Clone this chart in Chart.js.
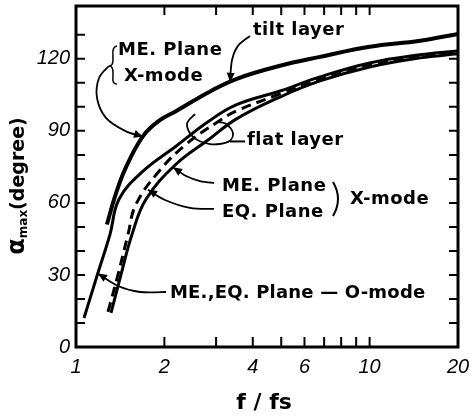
<!DOCTYPE html>
<html>
<head>
<meta charset="utf-8">
<script src="https://cdn.jsdelivr.net/npm/chart.js@4"></script>
<style>
  html, body { margin: 0; padding: 0; background: #fff; }
  #wrap { width: 469px; height: 417px; }
</style>
</head>
<body>
<div id="wrap"><canvas id="grafico" width="469" height="417"></canvas></div>
<script>
// eixos
const xTicks = [1, 2, 4, 6, 10, 20];
const xMinorTicks = [2, 3, 4, 5, 6, 7, 8, 9, 10];
const yTicks = [0, 30, 60, 90, 120];
const yMinorTicks = [10, 20, 30, 40, 50, 60, 70, 80, 90, 100, 110, 120, 130];

// tilt layer, ME plane X-mode
const fTilt = [1.274, 1.358, 1.469, 1.691, 1.932, 2.19, 2.84, 3.51, 4.95, 6.78, 10.0, 14.85, 20];
const aTilt = [51.0, 62.7, 74.0, 87.8, 94.5, 98.2, 106.2, 111.6, 117.1, 120.8, 125.0, 127.5, 130.4];
// flat layer, ME./EQ. plane O-mode
const fOmode = [1.065, 1.188, 1.305, 1.401, 1.691, 2.19, 2.84, 3.51, 4.95, 6.78, 10.0, 14.85, 20];
const aOmode = [12.1, 30.9, 46.8, 61.5, 73.2, 83.6, 94.1, 100.8, 106.6, 112.5, 118.3, 121.7, 123.3];
// flat layer, EQ. plane X-mode (tracejada)
const fEq = [1.285, 1.39, 1.503, 1.6, 1.918, 2.37, 3.07, 3.51, 4.95, 6.78, 10.0, 14.85, 20];
const aEq = [14.6, 30.1, 46.8, 59.4, 73.2, 84.4, 94.1, 98.2, 105.4, 111.6, 117.5, 121.2, 122.9];
// flat layer, ME. plane X-mode
const fMe = [1.316, 1.423, 1.551, 1.731, 2.19, 2.84, 3.51, 4.95, 6.78, 10.0, 14.85, 20];
const aMe = [14.2, 30.1, 46.8, 61.5, 76.1, 86.5, 94.9, 104.1, 110.8, 116.6, 120.4, 122.1];

const pontos = (fs, as) => fs.map((f, i) => ({ x: f, y: as[i] }));

const fonteTexto = 'bold 18px "DejaVu Sans"';

// desenha uma curva suave passando pelos pontos, com ponta de seta opcional
function curva(ctx, pts, ponta) {
    ctx.beginPath();
    ctx.moveTo(pts[0][0], pts[0][1]);
    for (let i = 0; i < pts.length - 1; i++) {
        const p0 = pts[i - 1] || pts[i], p1 = pts[i], p2 = pts[i + 1], p3 = pts[i + 2] || p2;
        ctx.bezierCurveTo(
            p1[0] + (p2[0] - p0[0]) / 6, p1[1] + (p2[1] - p0[1]) / 6,
            p2[0] - (p3[0] - p1[0]) / 6, p2[1] - (p3[1] - p1[1]) / 6,
            p2[0], p2[1]);
    }
    ctx.stroke();
    if (ponta) {
        const a = pts[pts.length - 2], b = pts[pts.length - 1];
        const ang = Math.atan2(b[1] - a[1], b[0] - a[0]);
        ctx.beginPath();
        ctx.moveTo(b[0], b[1]);
        ctx.lineTo(b[0] - 9 * Math.cos(ang) + 4 * Math.sin(ang), b[1] - 9 * Math.sin(ang) - 4 * Math.cos(ang));
        ctx.lineTo(b[0] - 9 * Math.cos(ang) - 4 * Math.sin(ang), b[1] - 9 * Math.sin(ang) + 4 * Math.cos(ang));
        ctx.closePath();
        ctx.fill();
    }
}

const anotacoes = {
    id: 'anotacoes',
    afterDraw(chart) {
        const { ctx, chartArea: ca, scales: { x, y } } = chart;
        const at = (f, a) => [x.getPixelForValue(f), y.getPixelForValue(a)];
        ctx.save();
        ctx.strokeStyle = '#000';
        ctx.fillStyle = '#000';

        // moldura
        ctx.lineWidth = 3;
        ctx.strokeRect(ca.left, ca.top, ca.right - ca.left, ca.bottom - ca.top);

        // marcas internas
        ctx.lineWidth = 2;
        ctx.beginPath();
        yMinorTicks.forEach(v => {
            const py = y.getPixelForValue(v);
            ctx.moveTo(ca.left, py); ctx.lineTo(ca.left + 9, py);
            ctx.moveTo(ca.right, py); ctx.lineTo(ca.right - 9, py);
        });
        xMinorTicks.forEach(v => {
            const px = x.getPixelForValue(v);
            ctx.moveTo(px, ca.bottom); ctx.lineTo(px, ca.bottom - 10);
            ctx.moveTo(px, ca.top); ctx.lineTo(px, ca.top + 9);
        });
        ctx.stroke();

        // textos
        ctx.font = fonteTexto;
        ctx.textBaseline = 'middle';
        ctx.textAlign = 'left';
        ctx.letterSpacing = '0.5px';
        const texto = (t, f, a) => { const p = at(f, a); ctx.fillText(t, p[0], p[1]); };
        texto('ME. Plane', 1.39, 123.7);
        texto('X-mode', 1.457, 112.9);
        texto('tilt layer', 4.007, 132.0);
        texto('flat layer', 3.824, 86.2);
        texto('ME. Plane', 3.143, 67.1);
        texto('EQ. Plane', 3.143, 56.2);
        texto('X-mode', 8.576, 61.6);
        ctx.letterSpacing = '0.2px';
        texto('ME.,EQ. Plane \u2014 O-mode', 2.09, 22.5);

        ctx.lineWidth = 1.5;
        // chave do "ME. Plane X-mode"
        const c = at(1.295, 117.0);
        ctx.beginPath();
        ctx.moveTo(c[0] + 8, c[1] - 20);
        ctx.quadraticCurveTo(c[0] + 3, c[1] - 19, c[0] + 4, c[1] - 11);
        ctx.lineTo(c[0] + 4, c[1] - 6);
        ctx.quadraticCurveTo(c[0] + 4, c[1], c[0], c[1]);
        ctx.quadraticCurveTo(c[0] + 4, c[1], c[0] + 4, c[1] + 6);
        ctx.lineTo(c[0] + 4, c[1] + 11);
        ctx.quadraticCurveTo(c[0] + 3, c[1] + 18, c[0] + 8, c[1] + 18);
        ctx.stroke();

        // parentese do X-mode de baixo
        ctx.lineWidth = 2;
        const b = at(7.743, 61.6);
        ctx.beginPath();
        ctx.moveTo(b[0] - 4, b[1] - 17);
        ctx.quadraticCurveTo(b[0] + 6, b[1], b[0] - 4, b[1] + 17);
        ctx.stroke();

        // setas
        ctx.lineWidth = 1.8;
        curva(ctx, [at(1.295, 117.0), at(1.198, 112.0), at(1.179, 103.7), at(1.265, 95.4), at(1.469, 90.0), at(1.691, 87.6)], true);
        curva(ctx, [at(3.914, 129.5), at(3.562, 125.4), at(3.399, 119.5), at(3.345, 110.4)], true);
        curva(ctx, [at(2.951, 68.3), at(2.645, 69.1), at(2.37, 71.2), at(2.14, 74.8)], true);
        curva(ctx, [at(2.951, 57.5), at(2.445, 57.9), at(2.01, 61.2), at(1.759, 65.5)], true);
        curva(ctx, [at(2.025, 22.9), at(1.652, 22.9), at(1.39, 25.4), at(1.188, 30.6)], true);
        // laco do "flat layer"
        curva(ctx, [at(2.543, 97.0), at(2.388, 92.9), at(2.503, 87.5), at(2.86, 84.5), at(3.294, 85.4), at(3.425, 89.1), at(3.243, 92.9), at(2.998, 93.7)], false);
        ctx.lineWidth = 2;
        curva(ctx, [at(3.345, 85.6), at(3.764, 85.6)], false);

        // titulos dos eixos
        ctx.letterSpacing = '0px';
        ctx.textBaseline = 'alphabetic';
        ctx.textAlign = 'center';
        ctx.font = 'bold 22px "DejaVu Sans"';
        ctx.fillText('f / fs', 264, 409);

        ctx.translate(24, 186);
        ctx.rotate(-Math.PI / 2);
        ctx.textAlign = 'left';
        const fa = 'bold 24px "DejaVu Sans"', fm = 'bold 12px "DejaVu Sans"', fd = 'bold 19px "DejaVu Sans"';
        ctx.font = fa; const wa = ctx.measureText('\u03b1').width;
        ctx.font = fm; const wm = ctx.measureText('max').width;
        ctx.font = fd; const wd = ctx.measureText('(degree)').width;
        let px = -(wa + wm + wd) / 2;
        ctx.font = fa; ctx.fillText('\u03b1', px, 0); px += wa;
        ctx.font = fm; ctx.fillText('max', px, 3); px += wm;
        ctx.font = fd; ctx.fillText('(degree)', px, 0);
        ctx.restore();
    }
};

new Chart(document.getElementById('grafico'), {
    type: 'scatter',
    data: {
        datasets: [
            { label: 'tilt layer', data: pontos(fTilt, aTilt), borderWidth: 4 },
            { label: 'O-mode', data: pontos(fOmode, aOmode), borderWidth: 3 },
            { label: 'EQ. Plane X-mode', data: pontos(fEq, aEq), borderWidth: 3, borderDash: [10, 6] },
            { label: 'ME. Plane X-mode', data: pontos(fMe, aMe), borderWidth: 3 }
        ].map(d => Object.assign({
            showLine: true,
            borderColor: '#000',
            backgroundColor: '#000',
            pointRadius: 0,
            tension: 0.4,
            fill: false
        }, d))
    },
    options: {
        responsive: false,
        animation: false,
        layout: { padding: { top: 6, right: 11, left: 0, bottom: 0 } },
        plugins: { legend: { display: false }, tooltip: { enabled: false } },
        scales: {
            x: {
                type: 'logarithmic',
                min: 1,
                max: 20,
                afterBuildTicks: s => { s.ticks = xTicks.map(v => ({ value: v })); },
                afterFit: s => { s.height = 70; s.paddingLeft = 0; s.paddingRight = 0; },
                grid: { display: false, drawTicks: false },
                border: { display: false },
                ticks: {
                    color: '#000',
                    font: { family: '"Liberation Sans"', size: 20, style: 'italic' },
                    padding: 8,
                    autoSkip: false,
                    maxRotation: 0,
                    callback: v => String(v)
                }
            },
            y: {
                min: 0,
                max: 142,
                afterBuildTicks: s => { s.ticks = yTicks.map(v => ({ value: v })); },
                afterFit: s => { s.width = 76; s.paddingTop = 0; s.paddingBottom = 0; },
                grid: { display: false, drawTicks: false },
                border: { display: false },
                ticks: {
                    color: '#000',
                    font: { family: '"Liberation Sans"', size: 20, style: 'italic' },
                    padding: 6
                }
            }
        }
    },
    plugins: [anotacoes]
});
</script>
</body>
</html>
